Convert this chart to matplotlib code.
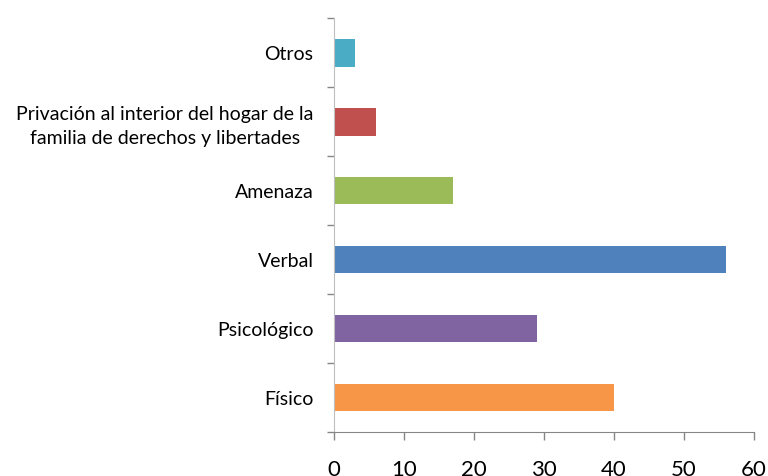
import matplotlib
matplotlib.use("Agg")
import matplotlib.pyplot as plt

categories = ["Físico", "Psicológico", "Verbal", "Amenaza",
              "Privación al interior del hogar de la\nfamilia de derechos y libertades", "Otros"]
values = [40, 29, 56, 17, 6, 3]
colors = ["#F79646", "#8064A2", "#4F81BD", "#9BBB59", "#C0504D", "#4BACC6"]
xticks = [0, 10, 20, 30, 40, 50, 60]

plt.rcParams['font.family'] = ['Lato', 'DejaVu Sans']

fig = plt.figure(figsize=(7.68, 4.76), dpi=100)
ax = fig.add_axes([0.4345, 0.0924, 0.547, 0.8692])
ypos = list(range(len(categories)))
ax.barh(ypos, values, height=0.4, color=colors)
ax.set_xlim(0, 60)
ax.set_ylim(-0.5, len(categories) - 0.5)
ax.set_xticks(xticks)
ax.set_xticklabels([str(t) for t in xticks], fontsize=16)
ax.set_yticks([i - 0.5 for i in range(len(categories) + 1)])
ax.set_yticklabels([])
ax.set_yticks(ypos, minor=True)
ax.set_yticklabels(categories, minor=True, fontsize=14, ha='right',
                   multialignment='center', linespacing=1.5)
ax.tick_params(axis='y', which='minor', length=0, pad=14.5)
ax.tick_params(axis='y', which='major', length=5, color='#868686', width=1)
ax.tick_params(axis='x', length=6, color='#868686', width=1, pad=14)
for s in ['top', 'right']:
    ax.spines[s].set_visible(False)
ax.spines['left'].set_color('#BFBFBF')
ax.spines['bottom'].set_color('#868686')
fig.savefig("out.png", dpi=100)
